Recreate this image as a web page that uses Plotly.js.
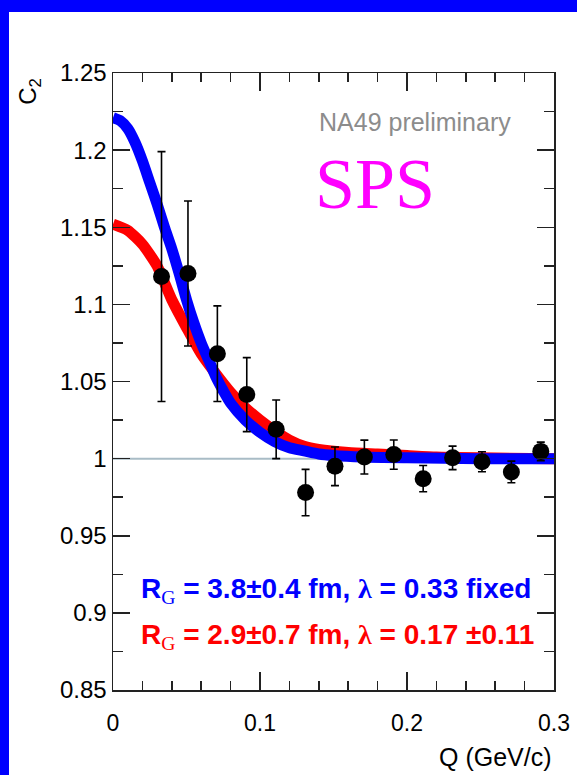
<!DOCTYPE html>
<html>
<head>
<meta charset="utf-8">
<script src="https://cdn.plot.ly/plotly-3.0.1.min.js"></script>
<style>
  html, body { margin: 0; padding: 0; background: #0000ff; width: 577px; height: 775px; overflow: hidden; }
  #chart { position: absolute; left: 9px; top: 12px; width: 568px; height: 763px; background: #ffffff; }
</style>
</head>
<body>
<div id="chart"></div>
<script>
// ---- data ----
const qPoints  = [0.033, 0.051, 0.071, 0.091, 0.111, 0.131, 0.151, 0.171, 0.191, 0.211, 0.231, 0.251, 0.271, 0.291];
const c2Points = [1.118, 1.120, 1.068, 1.0415, 1.019, 0.978, 0.995, 1.001, 1.0026, 0.987, 1.0005, 0.998, 0.9914, 1.0047];
const c2Errors = [0.081, 0.047, 0.031, 0.024, 0.019, 0.015, 0.0125, 0.011, 0.0095, 0.0085, 0.0076, 0.0065, 0.007, 0.006];

const blueQ  = [0, 0.005, 0.01, 0.015, 0.02, 0.025, 0.03, 0.035, 0.04, 0.045, 0.05, 0.055, 0.06, 0.065, 0.07, 0.075, 0.08, 0.09, 0.1, 0.11, 0.12, 0.13, 0.14, 0.15, 0.17, 0.2, 0.25, 0.3];
const blueC2 = [1.221, 1.219, 1.214, 1.205, 1.193, 1.179, 1.165, 1.150, 1.136, 1.120, 1.103, 1.088, 1.075, 1.064, 1.053, 1.044, 1.036, 1.025, 1.017, 1.011, 1.007, 1.005, 1.003, 1.002, 1.001, 1.0005, 1.0, 1.0];

const redQ  = [0, 0.01, 0.02, 0.03, 0.04, 0.05, 0.06, 0.07, 0.08, 0.09, 0.1, 0.11, 0.12, 0.13, 0.14, 0.16, 0.18, 0.2, 0.22, 0.25, 0.3];
const redC2 = [1.152, 1.148, 1.139, 1.125, 1.103, 1.085, 1.068, 1.055, 1.043, 1.033, 1.025, 1.018, 1.012, 1.008, 1.006, 1.004, 1.003, 1.002, 1.001, 1.0005, 1.0];

const refQ  = [0, 0.3];
const refC2 = [1, 1];

const xTickVals = [0, 0.1, 0.2, 0.3];
const xTickText = ['0', '0.1', '0.2', '0.3'];
const yTickVals = [0.85, 0.9, 0.95, 1, 1.05, 1.1, 1.15, 1.2, 1.25];
const yTickText = ['0.85', '0.9', '0.95', '1', '1.05', '1.1', '1.15', '1.2', '1.25'];

const FONT = 'Liberation Sans, Arial, Helvetica, sans-serif';
const SERIF = 'Liberation Serif, Times New Roman, serif';

const traces = [
  { x: refQ, y: refC2, mode: 'lines', line: { color: '#a9bcc6', width: 2 }, hoverinfo: 'skip' },
  { x: redQ, y: redC2, mode: 'lines', line: { color: '#ff0000', width: 11, shape: 'spline', smoothing: 0.6 } },
  { x: blueQ, y: blueC2, mode: 'lines', line: { color: '#0000ff', width: 11, shape: 'spline', smoothing: 0.6 } },
  { x: qPoints, y: c2Points, mode: 'markers',
    marker: { color: '#000000', size: 17 },
    error_y: { type: 'data', array: c2Errors, visible: true, color: '#000000', thickness: 1.6, width: 4 } }
];

const axisCommon = {
  showgrid: false, zeroline: false, showline: true, linecolor: '#222222', linewidth: 1.5,
  mirror: 'ticks', ticks: 'inside', tickcolor: '#222222', tickwidth: 1.5
};

const layout = {
  width: 568, height: 763,
  margin: { l: 104, r: 23, t: 61, b: 85 },
  paper_bgcolor: '#ffffff', plot_bgcolor: '#ffffff',
  showlegend: false,
  xaxis: Object.assign({}, axisCommon, {
    range: [0, 0.3], tickmode: 'array', tickvals: xTickVals, ticktext: xTickText, ticklen: 18,
    tickfont: { family: FONT, size: 23, color: '#000000' }, ticklabelstandoff: 12,
    minor: { dtick: 0.02, tick0: 0, ticks: 'inside', ticklen: 9, tickcolor: '#222222', tickwidth: 1.5, showgrid: false }
  }),
  yaxis: Object.assign({}, axisCommon, {
    range: [0.85, 1.25], tickmode: 'array', tickvals: yTickVals, ticktext: yTickText, ticklen: 17,
    tickfont: { family: FONT, size: 24, color: '#000000' },
    minor: { dtick: 0.025, tick0: 0.85, ticks: 'inside', ticklen: 10, tickcolor: '#222222', tickwidth: 1.5, showgrid: false }
  }),
  annotations: [
    { xref: 'paper', yref: 'paper', x: -0.19, y: 0.97, xanchor: 'center', yanchor: 'middle',
      text: 'C<sub>2</sub>', textangle: -90, showarrow: false,
      font: { family: FONT, size: 24, color: '#000000' } },
    { xref: 'paper', yref: 'paper', x: 1.0, y: -0.108, xanchor: 'right', yanchor: 'middle',
      text: 'Q (GeV/c)', showarrow: false,
      font: { family: FONT, size: 25, color: '#000000' } },
    { xref: 'x', yref: 'y', x: 0.1386, y: 1.2183, xanchor: 'left', yanchor: 'middle',
      text: 'NA49 preliminary', showarrow: false,
      font: { family: FONT, size: 25, color: '#8c8c8c' } },
    { xref: 'x', yref: 'y', x: 0.1359, y: 1.178, xanchor: 'left', yanchor: 'middle',
      text: 'SPS', showarrow: false,
      font: { family: SERIF, size: 72, color: '#ff00ff' } },
    { xref: 'x', yref: 'y', x: 0.0175, y: 0.9145, xanchor: 'left', yanchor: 'middle',
      text: '<b>R<sub><span style="font-family:' + SERIF + ';font-weight:normal">G</span></sub> = 3.8±0.4 fm, <span style="font-family:' + SERIF + '">λ</span> = 0.33 fixed</b>',
      showarrow: false, font: { family: FONT, size: 28, color: '#0000ff' } },
    { xref: 'x', yref: 'y', x: 0.0175, y: 0.8847, xanchor: 'left', yanchor: 'middle',
      text: '<b>R<sub><span style="font-family:' + SERIF + ';font-weight:normal">G</span></sub> = 2.9±0.7 fm, <span style="font-family:' + SERIF + '">λ</span> = 0.17 ±0.11</b>',
      showarrow: false, font: { family: FONT, size: 28, color: '#ff0000' } }
  ]
};

Plotly.newPlot('chart', traces, layout, { staticPlot: true, displayModeBar: false });
</script>
</body>
</html>
